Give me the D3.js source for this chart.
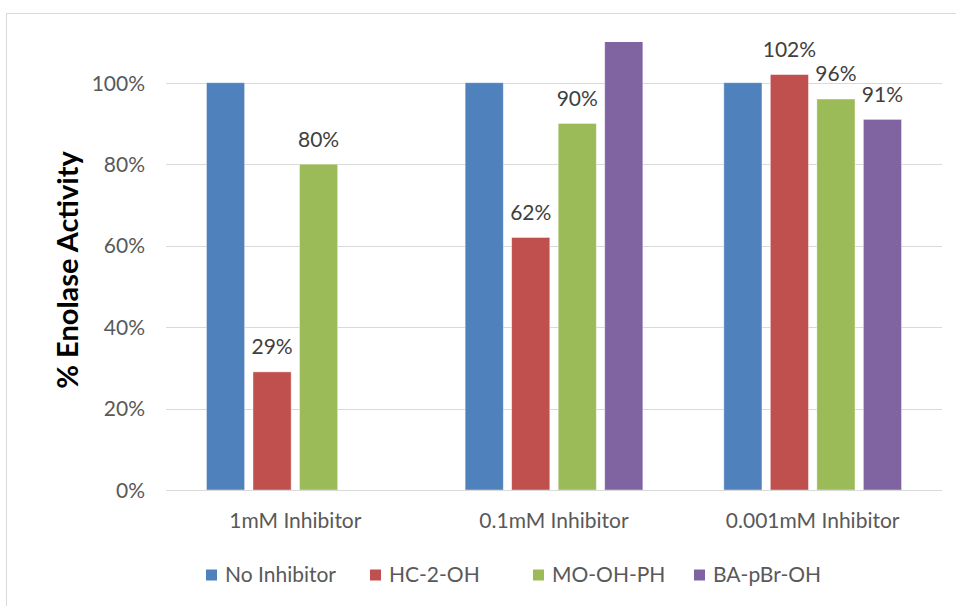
<!DOCTYPE html>
<html><head><meta charset="utf-8">
<script src="https://cdn.jsdelivr.net/npm/d3@7"></script>
<style>body{margin:0;background:#fff}svg{display:block}</style>
</head><body>
<svg id="c" width="956" height="606"></svg>
<script>
const categories = ["1mM Inhibitor", "0.1mM Inhibitor", "0.001mM Inhibitor"];
const seriesNames = ["No Inhibitor", "HC-2-OH", "MO-OH-PH", "BA-pBr-OH"];
const noInhibitor = [1.00, 1.00, 1.00];
const hc2oh = [0.29, 0.62, 1.02];
const moohph = [0.80, 0.90, 0.96];
const bapbroh = [null, 1.25, 0.91];
const showLabel = [false, true, true, true];
const tickValues = [0, 0.2, 0.4, 0.6, 0.8, 1.0];
const colors = ["#4f81bd", "#c0504d", "#9bbb59", "#8064a2"];

const seriesValues = [noInhibitor, hc2oh, moohph, bapbroh];
const svg = d3.select("#c");
const font = "Lato, 'Open Sans', sans-serif";
const fs = 21;

svg.append("rect").attr("x", 6.5).attr("y", 13.5).attr("width", 1000).attr("height", 700)
  .attr("fill", "#fff").attr("stroke", "#d9d9d9").attr("stroke-width", 1);

const pLeft = 166, pRight = 942, pTop = 42, pBottom = 490;
const y = d3.scaleLinear().domain([0, 1.1]).range([pBottom, pTop]);
const x0 = d3.scaleBand().domain(categories).range([pLeft, pRight]).padding(0);
const x1 = d3.scaleBand().domain(seriesNames).range([0, x0.bandwidth()])
  .paddingInner(0.18).paddingOuter(0.87);

// gridlines
svg.append("g").selectAll("line").data(tickValues.filter(d => d > 0)).join("line")
  .attr("x1", pLeft).attr("x2", pRight)
  .attr("y1", d => Math.round(y(d)) + 0.5).attr("y2", d => Math.round(y(d)) + 0.5)
  .attr("stroke", "#d9d9d9").attr("stroke-width", 1);

// y axis labels
const yAxis = d3.axisLeft(y).tickValues(tickValues).tickFormat(d3.format(".0%")).tickSize(0).tickPadding(0);
const ya = svg.append("g").attr("transform", `translate(145,0)`).call(yAxis);
ya.select(".domain").remove();
ya.selectAll("text").attr("font-family", font).attr("font-size", fs).attr("fill", "#595959").attr("dy", "0.35em");

svg.append("defs").append("clipPath").attr("id", "plotclip").append("rect")
  .attr("x", pLeft).attr("y", pTop).attr("width", pRight - pLeft).attr("height", pBottom - pTop);

// bars
const data = [];
categories.forEach((c, i) => seriesNames.forEach((s, j) => {
  const v = seriesValues[j][i];
  if (v != null) data.push({c, s, j, v});
}));
svg.append("g").attr("clip-path", "url(#plotclip)").selectAll("rect").data(data).join("rect")
  .attr("x", d => x0(d.c) + x1(d.s))
  .attr("width", x1.bandwidth())
  .attr("y", d => y(d.v))
  .attr("height", d => y(0) - y(d.v))
  .attr("fill", d => colors[d.j])
  .attr("stroke", "#ffffff").attr("stroke-opacity", 0.5).attr("stroke-width", 0.8);

// x axis
const xAxis = d3.axisBottom(x0).tickSize(0).tickPadding(0);
const xa = svg.append("g").attr("transform", `translate(0,${pBottom})`).call(xAxis);
xa.select(".domain").remove();
xa.selectAll("text").attr("font-family", font).attr("font-size", fs).attr("fill", "#595959").attr("dy", "0.35em").attr("y", 31);
svg.append("line").attr("x1", pLeft).attr("x2", pRight).attr("y1", pBottom + 0.5).attr("y2", pBottom + 0.5)
  .attr("stroke", "#d9d9d9").attr("stroke-width", 1);

// data labels
svg.append("g").selectAll("text").data(data.filter(d => showLabel[d.j] && d.v <= 1.1)).join("text")
  .attr("x", d => x0(d.c) + x1(d.s) + x1.bandwidth() / 2)
  .attr("y", d => y(d.v) - 25)
  .attr("text-anchor", "middle")
  .attr("dy", "0.35em")
  .attr("font-family", font).attr("font-size", fs).attr("fill", "#404040")
  .text(d => d3.format(".0%")(d.v));

// y title
svg.append("text").attr("transform", "translate(68,270) rotate(-90)")
  .attr("text-anchor", "middle").attr("dy", "0.35em").attr("font-family", font)
  .attr("font-weight", "bold").attr("font-size", 29).attr("fill", "#000")
  .text("% Enolase Activity");

// legend
const legendX = [206, 370, 533, 694];
const lg = svg.append("g").selectAll("g").data(seriesNames).join("g")
  .attr("transform", (d, i) => `translate(${legendX[i]},575)`);
lg.append("rect").attr("x", 0).attr("y", -5.5).attr("width", 11).attr("height", 11)
  .attr("fill", (d, i) => colors[i]);
lg.append("text").attr("x", 19).attr("y", 0).attr("dy", "0.35em")
  .attr("font-family", font).attr("font-size", fs).attr("fill", "#595959").text(d => d);
</script>
</body></html>
